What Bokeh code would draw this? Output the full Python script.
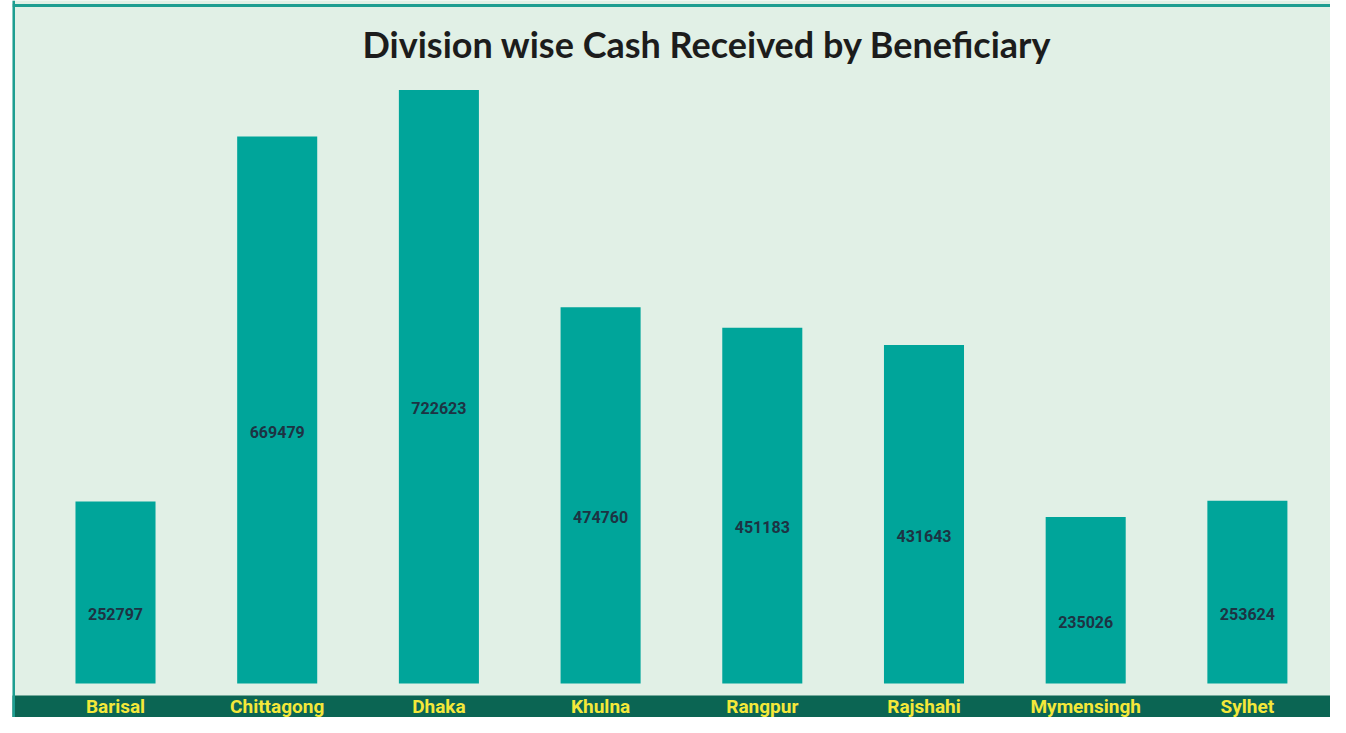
from bokeh.plotting import figure
from bokeh.models import ColumnDataSource, Range1d, Label, Span
from bokeh.core.properties import value
from bokeh.embed import file_html
from bokeh.resources import INLINE

divisions = ["Barisal", "Chittagong", "Dhaka", "Khulna", "Rangpur", "Rajshahi", "Mymensingh", "Sylhet"]
cash = [252797, 669479, 722623, 474760, 451183, 431643, 235026, 253624]
title_text = "Division wise Cash Received by Beneficiary"

y_base = 45000          # value at which the bars start
y_min, y_max = 6175, 824918
band_top = 31300
label_y = 18700

xs = [i + 0.5 for i in range(len(divisions))]
src = ColumnDataSource(dict(
    x=xs, top=cash, div=divisions,
    mid=[v / 2 for v in cash],
    lab=[str(v) for v in cash],
    ly=[label_y] * len(divisions),
))

x_start = -0.137
x_end = 8.014

p = figure(width=1330, height=717, output_backend="svg", toolbar_location=None,
           x_range=Range1d(x_start, x_end), y_range=Range1d(y_min, y_max),
           min_border_left=12, min_border_right=0, min_border_top=0, min_border_bottom=0)
p.axis.visible = False
p.grid.visible = False
p.outline_line_color = None
p.background_fill_color = "#e1f0e6"
p.border_fill_color = "white"

# bottom band
p.quad(left=[x_start - 1], right=[x_end + 1], bottom=[y_min - 100000], top=[band_top],
       fill_color="#0b6553", line_color=None)

p.vbar(x="x", top="top", bottom=y_base, width=0.495, source=src,
       fill_color="#00a59a", line_color=None)

p.text(x="x", y="mid", text="lab", source=src, text_align="center", text_baseline="middle",
       y_offset=2, text_font=value("Roboto"), text_font_size="16px", text_font_style="bold",
       text_color="#1d3343")

p.text(x="x", y="ly", text="div", source=src, text_align="center", text_baseline="middle",
       text_font=value("Roboto"), text_font_size="19px", text_font_style="bold",
       text_color="#f4e83a")

# left and top border lines
p.add_layout(Span(location=x_start + 1.0 / 161.7, dimension="height", line_color="#1e9e91", line_width=3))
p.add_layout(Span(location=y_max - 5 * 1142, dimension="width", line_color="#1e9e91", line_width=3))

p.add_layout(Label(x=4.16, y=y_max - 43 * 1142, text=title_text, text_align="center", text_baseline="middle",
                   text_font="Lato", text_font_size="36px", text_font_style="bold", text_color="#1c1c1c"))

open("out.html", "w").write(file_html(p, INLINE))
